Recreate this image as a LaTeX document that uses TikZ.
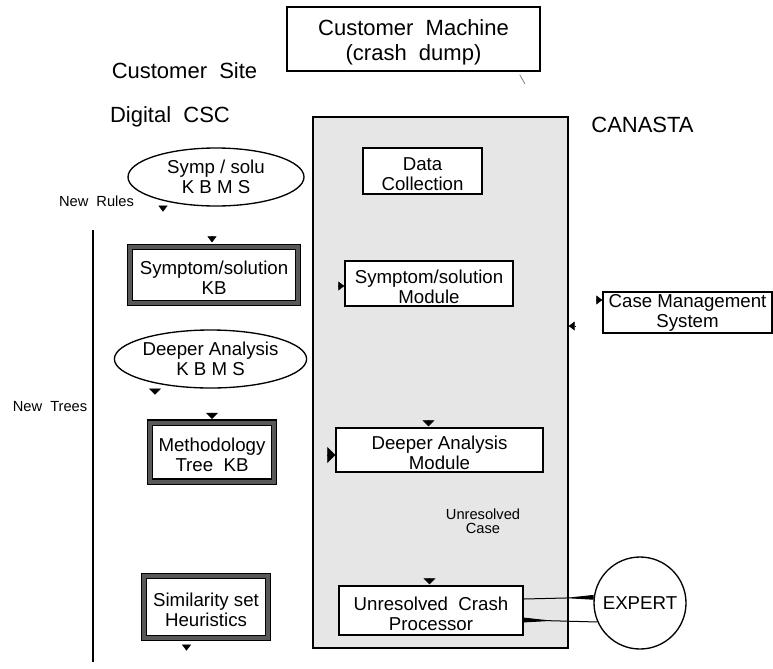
\documentclass[tikz,border=0pt]{standalone}
\usepackage{fontspec}
\setmainfont{Liberation Sans}
\usetikzlibrary{arrows.meta}
\usetikzlibrary{calc}
\usetikzlibrary{shapes.geometric}

\definecolor{panelgray}{RGB}{230,230,230}
\definecolor{framegray}{RGB}{88,88,88}

% taller first line, so two-line box texts sit a little low
\newcommand{\toplift}{\rule{0pt}{1.07em}}

\begin{document}
\begin{tikzpicture}[x=0.75pt, y=-0.75pt,
    every node/.style={font=\fontsize{14}{15}\selectfont, align=center, inner sep=0pt},
    bigtext/.style={font=\fontsize{16.5}{18.75}\selectfont},
    smalltext/.style={font=\fontsize{11}{10.5}\selectfont},
    box/.style={draw, line width=1.1pt, fill=white},
    kbbox/.style={draw, line width=0.9pt, double=framegray, double distance=3pt, fill=white},
    kbms/.style={draw, ellipse, line width=1pt, fill=white},
    headsm/.style={-{Triangle[length=4.5pt,width=6.75pt]}},
    headmd/.style={-{Triangle[length=4.5pt,width=9pt]}},
    headlg/.style={-{Triangle[length=6pt,width=12pt]}},
    wedge/.style={line width=0.75pt, -{Triangle[reversed,length=22.5pt,width=3.4pt]}}]
    \useasboundingbox (0,0) rectangle (773,668);

    % CANASTA panel
    \node[draw, line width=1.1pt, fill=panelgray, minimum width=191.25pt, minimum height=398.25pt] (canasta) at (440.5,382.5) {};
    \node[bigtext] (canastalbl) at (642.5,125) {CANASTA};

    % customer side
    \node[box, bigtext, minimum width=189.75pt, minimum height=48pt] (machine) at (413.5,39) {\toplift Customer~~Machine\\(crash~~dump)};
    \node[bigtext] (custsite) at (184.5,71) {Customer~~Site};
    \node[bigtext] (csc) at (170,117) {Digital~~CSC};

    % knowledge bases at the CSC
    \node[kbms, minimum width=132pt, minimum height=43.5pt] (symkbms) at (216,177) {Symp / solu\\K B M S};
    \node[kbbox, minimum width=126pt, minimum height=42pt] (symkb) at (214,275) {\toplift Symptom/solution\\KB};
    \node[kbms, minimum width=131.25pt, minimum height=43.5pt] (dakbms) at (210.5,359) {Deeper Analysis\\K B M S};
    \node[kbbox, minimum width=93pt, minimum height=44.25pt] (methkb) at (212,452) {\toplift Methodology\\Tree~~KB};
    \node[kbbox, minimum width=93pt, minimum height=46.5pt] (simkb) at (206,607) {\toplift Similarity set\\Heuristics};
    \node[smalltext] (newrules) at (96.5,201) {New~~Rules};
    \node[smalltext] (newtrees) at (50,407) {New~~Trees};
    \coordinate (feedtop) at (93,230);
    \coordinate (feedbot) at (93,662);
    \draw[line width=1pt] (feedtop) -- (feedbot);

    % modules inside CANASTA
    \node[box, minimum width=89.25pt, minimum height=34.5pt] (datacol) at (422.5,171) {\toplift Data\\Collection};
    \node[box, minimum width=126pt, minimum height=33.75pt] (symmod) at (429,283.5) {\toplift Symptom/solution\\Module};
    \node[box, minimum width=155.25pt, minimum height=33pt] (damod) at (439.5,450) {\toplift Deeper Analysis\\Module};
    \node[smalltext] (unrescase) at (483,521) {Unresolved\\Case};
    \node[box, minimum width=138pt, minimum height=36.75pt] (ucp) at (431,610.5) {\toplift Unresolved~~Crash\\Processor};

    % outside parties
    \node[box, minimum width=126.75pt, minimum height=30.75pt] (cms) at (687.5,312.5) {Case Management\\System};
    \node[draw, circle, line width=1pt, fill=white, minimum size=69pt] (expert) at (640,603) {EXPERT};

    % arrow heads
    \coordinate (dumptick) at (525,84);
    \draw[gray, line width=0.6pt] ($(machine.south east)+(-21,3)$) -- (dumptick);
    \draw[headsm] ($(symkbms.south)+(-53,-1)$) -- ($(symkbms.south)+(-53,5)$);
    \draw[headsm] ($(symkb.north)+(-2,-10)$) -- ($(symkb.north)+(-2,-4)$);
    \draw[headsm] ($(symmod.west)+(-6,2.5)$) -- ($(symmod.west)+(0,2.5)$);
    \draw[headsm] ($(canasta.east)+(6,-56.5)$) -- ($(canasta.east)+(0,-56.5)$);
    \draw[headsm] ($(cms.west)+(-6,-12.5)$) -- ($(cms.west)+(0,-12.5)$);
    \draw[headmd] ($(dakbms.south)+(-55.5,0)$) -- ($(dakbms.south)+(-55.5,6)$);
    \draw[headmd] ($(methkb.north)+(0,-9)$) -- ($(methkb.north)+(0,-3)$);
    \draw[headlg] ($(damod.west)+(-8,5)$) -- ($(damod.west)+(0,5)$);
    \draw[headmd] ($(damod.north)+(-11,-7)$) -- ($(damod.north)+(-11,-1)$);
    \draw[headmd] ($(ucp.north)+(-1.5,-7)$) -- ($(ucp.north)+(-1.5,-1)$);
    \draw[headsm] ($(simkb.south)+(-19.5,6)$) -- ($(simkb.south)+(-19.5,12)$);

    % hand-off to the expert and back
    \draw[wedge] ($(ucp.east)+(0,-11.5)$) -- (expert.173);
    \draw[wedge] (expert.204) -- ($(ucp.east)+(0,9.5)$);
\end{tikzpicture}
\end{document}
